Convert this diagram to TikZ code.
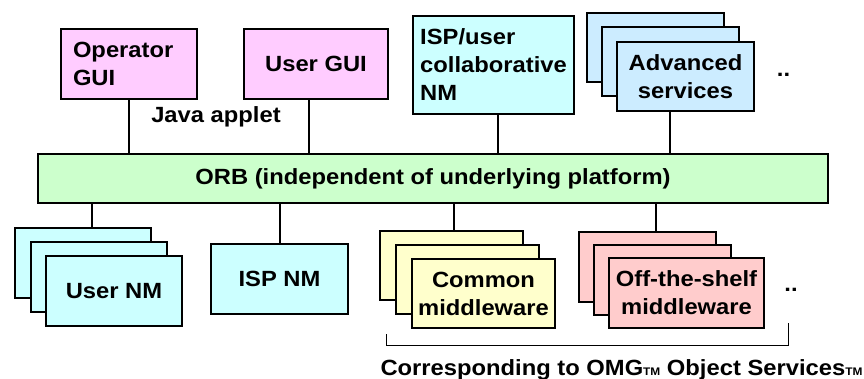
\documentclass[tikz,border=0pt]{standalone}
\usepackage{fontspec}
\setmainfont[FakeStretch=1.08]{Liberation Sans}
\usetikzlibrary{positioning,calc,backgrounds}
\definecolor{guipink}{HTML}{FFCCFF}
\definecolor{nmcyan}{HTML}{CCFFFF}
\definecolor{svcblue}{HTML}{CCECFF}
\definecolor{orbgreen}{HTML}{CCFFCC}
\definecolor{mwyellow}{HTML}{FFFFCC}
\definecolor{mwred}{HTML}{FFCCCC}
\newcommand{\tmark}{{\fontsize{11}{11}\selectfont TM}}
\tikzset{
  fig/.style={font=\fontsize{22}{28}\selectfont\bfseries},
  box/.style={draw,line width=2pt,minimum height=70pt,minimum width=137pt,
              inner sep=0pt,align=center},
  layer/.style={box,anchor=north west},
  lnk/.style={line width=2pt},
  lbl/.style={inner sep=0pt},
}

\begin{document}
\begin{tikzpicture}[fig,x=1pt,y=-1pt]
\useasboundingbox (0,0) rectangle (864,379);

% platform
\node[box,fill=orbgreen,minimum width=790pt,minimum height=49pt] (orb) at (433,178.5)
     {ORB (independent of underlying platform)};

% upper row
\node[box,fill=guipink,minimum width=136pt,text width=112pt,align=left] (opgui) at (129,64) {Operator\\GUI};
\node[box,fill=guipink,minimum width=144pt] (usergui) at (316,64) {User GUI};
\node[box,fill=nmcyan,minimum width=161pt,minimum height=98pt,align=left] (ispcollab) at (493.5,65)
     {ISP/user\\collaborative\\NM};
\node[box,fill=svcblue,minimum height=69pt] (adv) at (685.5,76.5) {Advanced\\services};
\node[lbl,anchor=base] (java) at (216,123) {Java applet};
\node[lbl,anchor=base] (dotsup) at (783.5,77) {..};

% lower row
\node[box,fill=nmcyan,minimum width=136pt] (usernm) at (114,291) {User NM};
\node[box,fill=nmcyan] (ispnm) at (279.5,279) {ISP NM};
\node[box,fill=mwyellow,minimum width=143pt,minimum height=69pt] (common) at (483.5,293.5)
     {Common\\middleware};
\node[box,fill=mwred,minimum width=155pt] (offshelf) at (686.5,293) {Off-the-shelf\\middleware};
\node[lbl,anchor=base] (dotslow) at (791,291) {..};

% stacked copies behind
\begin{scope}[on background layer]
  \foreach \i in {2,1} {
    \node[layer,fill=svcblue,minimum height=69pt] (adv\i) at ([shift={(-15*\i,-14.5*\i)}]adv.north west) {};
    \node[layer,fill=nmcyan,minimum width=136pt] (usernm\i) at ([shift={(-15.5*\i,-14*\i)}]usernm.north west) {};
    \node[layer,fill=mwyellow,minimum width=143pt,minimum height=69pt] (common\i) at ([shift={(-16*\i,-14*\i)}]common.north west) {};
    \node[layer,fill=mwred] (offshelf\i) at ([shift={(-15*\i,-13*\i)}]offshelf.north west) {};
  }
\end{scope}

% links to the ORB
\draw[lnk] (opgui.south) -- (opgui.south |- orb.north);
\draw[lnk] ([xshift=-7pt]usergui.south) -- ([xshift=-7pt]usergui.south |- orb.north);
\draw[lnk] ([xshift=4.5pt]ispcollab.south) -- ([xshift=4.5pt]ispcollab.south |- orb.north);
\draw[lnk] ([xshift=-15.5pt]adv.south) -- ([xshift=-15.5pt]adv.south |- orb.north);
\draw[lnk] ([xshift=8.5pt]usernm2.north) -- ([xshift=8.5pt]usernm2.north |- orb.south);
\draw[lnk] (ispnm.north) -- (ispnm.north |- orb.south);
\draw[lnk] ([xshift=2.5pt]common2.north) -- ([xshift=2.5pt]common2.north |- orb.south);
\draw[lnk] ([xshift=8.5pt]offshelf2.north) -- ([xshift=8.5pt]offshelf2.north |- orb.south);

% bracket for the object services
\coordinate (brl) at (386,334);
\coordinate (brr) at (788,323);
\draw[line width=1pt] (brl) -- ++(0,11) -| (brr);
\node[lbl,anchor=base] (omg) at (621.5,375)
     {Corresponding to OMG\tmark\ Object Services\tmark};
\end{tikzpicture}
\end{document}
